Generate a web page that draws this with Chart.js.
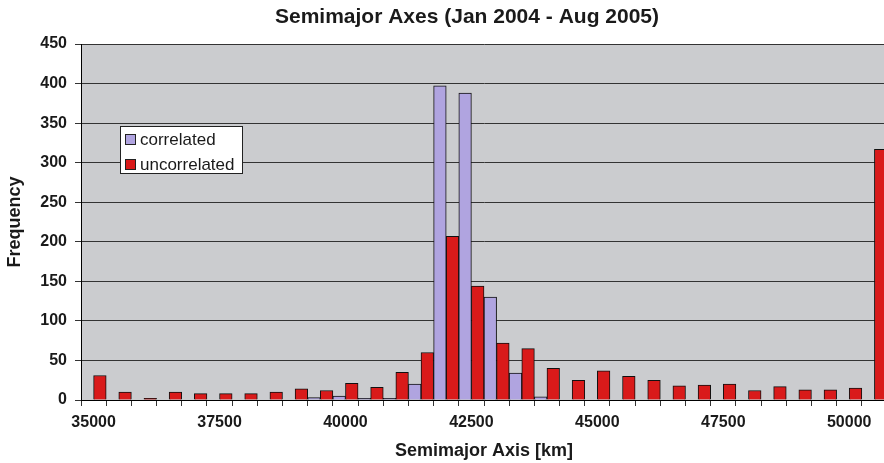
<!DOCTYPE html>
<html>
<head>
<meta charset="utf-8">
<title>Semimajor Axes</title>
<script src="https://cdn.jsdelivr.net/npm/chart.js@4.4.1/dist/chart.umd.min.js"></script>
<style>
    html, body { margin: 0; padding: 0; background: #fff; overflow: hidden; }
    #wrap { width: 884px; height: 463px; overflow: hidden; }
</style>
</head>
<body>
<div id="wrap"><canvas id="axesChart" width="887" height="463"></canvas></div>
<script>
// ========== DATA ==========
const categories = ['35000', '35500', '36000', '36500', '37000', '37500', '38000', '38500',
    '39000', '39500', '40000', '40500', '41000', '41500', '42000', '42500',
    '43000', '43500', '44000', '44500', '45000', '45500', '46000', '46500',
    '47000', '47500', '48000', '48500', '49000', '49500', '50000', '50500'];
const correlated = [0, 0, 0, 0, 0, 0, 0, 0, 0, 3, 5, 2, 2, 20, 397, 388,
    130, 34, 4, 0, 0, 0, 0, 0, 0, 0, 0, 0, 0, 0, 0, 0];
const uncorrelated = [31, 10, 2, 10, 8, 8, 8, 10, 14, 12, 21, 16, 35, 60, 207, 144,
    72, 65, 40, 25, 37, 30, 25, 18, 19, 20, 12, 17, 13, 13, 15, 317];
const xTickLabels = ['35000', '37500', '40000', '42500', '45000', '47500', '50000'];
const yMin = 0;
const yMax = 450;
const yStep = 50;

const chartTitle = 'Semimajor Axes (Jan 2004 - Aug 2005)';
const seriesNames = ['correlated', 'uncorrelated'];
const seriesColors = ['#b0a4e0', '#d91a1a'];

// ========== PLUGINS ==========
// grey plot background
const plotBackground = {
    id: 'plotBackground',
    beforeDraw(chart) {
        const { ctx, chartArea } = chart;
        ctx.save();
        ctx.fillStyle = '#cbcccf';
        ctx.fillRect(chartArea.left, chartArea.top, chartArea.right - chartArea.left, chartArea.bottom - chartArea.top);
        ctx.restore();
    }
};

// title and boxed legend like the original
const titleAndLegend = {
    id: 'titleAndLegend',
    afterDraw(chart) {
        const ctx = chart.ctx;
        ctx.save();
        ctx.fillStyle = '#1a1a1a';
        ctx.font = 'bold 21px "Liberation Sans", Arial, sans-serif';
        ctx.textAlign = 'center';
        ctx.textBaseline = 'alphabetic';
        ctx.fillText(chartTitle, 467, 23);

        // legend box
        ctx.fillStyle = '#fff';
        ctx.strokeStyle = '#222';
        ctx.lineWidth = 1;
        ctx.fillRect(120.5, 126.5, 122, 47);
        ctx.strokeRect(120.5, 126.5, 122, 47);

        ctx.font = '17px "Liberation Sans", Arial, sans-serif';
        ctx.textAlign = 'left';
        ctx.textBaseline = 'middle';
        seriesNames.forEach((name, i) => {
            const y = 134.5 + i * 25;
            ctx.fillStyle = seriesColors[i];
            ctx.fillRect(125.5, y, 10, 10);
            ctx.strokeStyle = '#222';
            ctx.strokeRect(125.5, y, 10, 10);
            ctx.fillStyle = '#1a1a1a';
            ctx.fillText(name, 140, y + 6);
        });
        ctx.restore();
    }
};

// ========== CHART ==========
const ctx = document.getElementById('axesChart').getContext('2d');
new Chart(ctx, {
    type: 'bar',
    data: {
        labels: categories,
        datasets: [{
            label: seriesNames[0],
            data: correlated,
            backgroundColor: seriesColors[0],
            borderColor: '#111',
            borderWidth: 1,
            barPercentage: 1,
            categoryPercentage: 1
        }, {
            label: seriesNames[1],
            data: uncorrelated,
            backgroundColor: seriesColors[1],
            borderColor: '#111',
            borderWidth: 1,
            barPercentage: 1,
            categoryPercentage: 1
        }]
    },
    options: {
        responsive: false,
        animation: false,
        devicePixelRatio: 1,
        layout: { padding: { top: 44, left: 0, right: 0, bottom: 0 } },
        plugins: {
            legend: { display: false },
            title: { display: false },
            tooltip: { enabled: false }
        },
        scales: {
            x: {
                offset: true,
                afterFit: scale => { scale.height = 63; },
                grid: { offset: true, drawOnChartArea: false, tickLength: 6, color: '#333' },
                border: { color: '#000', width: 1 },
                ticks: {
                    autoSkip: false,
                    maxRotation: 0,
                    padding: 7,
                    color: '#1a1a1a',
                    font: { family: '"Liberation Sans", Arial, sans-serif', size: 16, weight: 'bold' },
                    callback: function (value, index) {
                        const label = categories[index];
                        return xTickLabels.includes(label) ? label : '';
                    }
                },
                title: {
                    display: true,
                    text: 'Semimajor Axis [km]',
                    color: '#1a1a1a',
                    padding: { top: 0, bottom: 1 },
                    font: { family: '"Liberation Sans", Arial, sans-serif', size: 18, weight: 'bold' }
                }
            },
            y: {
                min: yMin,
                max: yMax,
                afterFit: scale => { scale.width = 81; },
                grid: { color: '#333', tickLength: 6 },
                border: { color: '#000', width: 1 },
                ticks: {
                    stepSize: yStep,
                    padding: 8,
                    color: '#1a1a1a',
                    font: { family: '"Liberation Sans", Arial, sans-serif', size: 16, weight: 'bold' }
                },
                title: {
                    display: true,
                    text: 'Frequency',
                    color: '#1a1a1a',
                    padding: { top: 4, bottom: 0 },
                    font: { family: '"Liberation Sans", Arial, sans-serif', size: 18, weight: 'bold' }
                }
            }
        }
    },
    plugins: [plotBackground, titleAndLegend]
});
</script>
</body>
</html>
